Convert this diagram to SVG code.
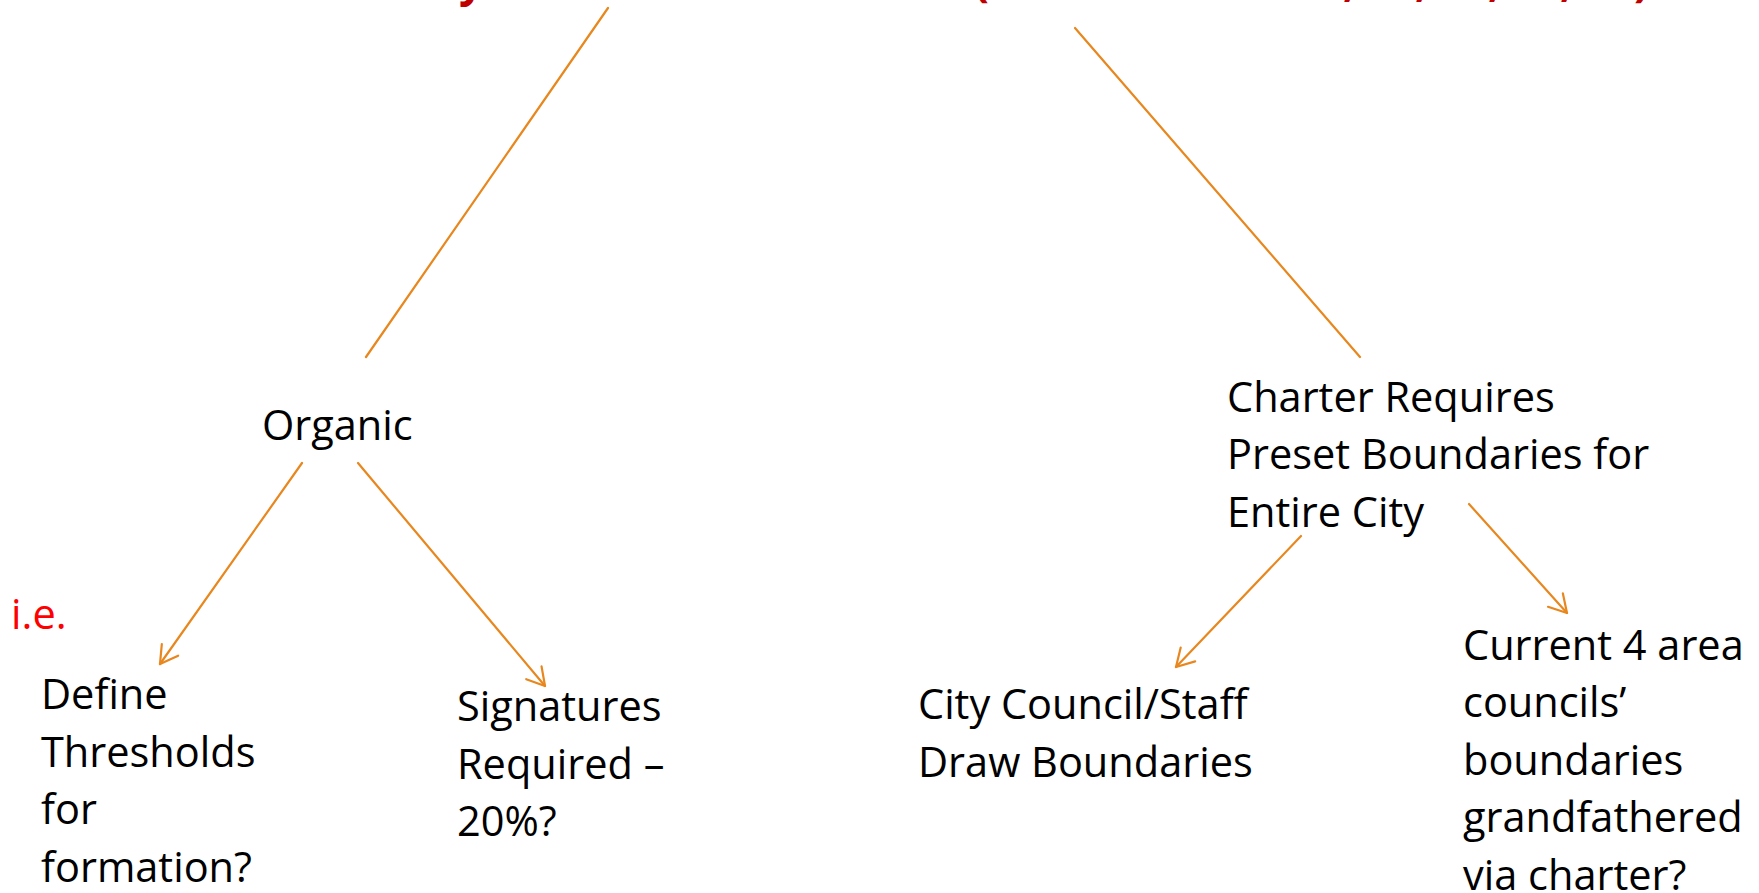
<svg xmlns="http://www.w3.org/2000/svg" width="1759" height="893" viewBox="0 0 1759 893">
  <style>
    .t { font-family: "Open Sans", "Liberation Sans", sans-serif; font-size: 41.5px; fill: #000000; }
    .red { fill: #FF0000; }
    .ttl { font-family: "Open Sans", "Liberation Sans", sans-serif; font-size: 44px; font-weight: bold; fill: #C00000; }
    .ln { stroke: #E8871E; stroke-width: 2.2; fill: none; stroke-linecap: round; }
  </style>
  <defs>
    <marker id="arr" viewBox="-20 -12 22 24" refX="0" refY="0" markerWidth="22" markerHeight="24" markerUnits="userSpaceOnUse" orient="auto">
      <path d="M-17.3,-10 L0,0 L-17.3,10" fill="none" stroke="#E8871E" stroke-width="2.2" stroke-linecap="round" stroke-linejoin="round"/>
    </marker>
  </defs>
  <rect width="1759" height="893" fill="#FFFFFF"/>

  <g id="title-fragment">
    <text class="ttl" x="459" y="-4">y</text>
    <text class="ttl" x="974" y="-4">(</text>
    <text class="ttl" x="1343" y="-4">,</text>
    <text class="ttl" x="1415" y="-4">,</text>
    <text class="ttl" x="1488" y="-4">,</text>
    <text class="ttl" x="1560" y="-4">,</text>
    <text class="ttl" x="1634" y="-4">)</text>
  </g>

  <g id="connectors">
    <line class="ln" x1="608" y1="8" x2="366" y2="357"/>
    <line class="ln" x1="1075" y1="28" x2="1360" y2="357"/>
    <line class="ln" x1="302" y1="463" x2="160" y2="664" marker-end="url(#arr)"/>
    <line class="ln" x1="358" y1="463" x2="545" y2="686" marker-end="url(#arr)"/>
    <line class="ln" x1="1301" y1="536" x2="1176" y2="667" marker-end="url(#arr)"/>
    <line class="ln" x1="1469" y1="504" x2="1567" y2="613" marker-end="url(#arr)"/>
  </g>

  <g id="node-organic">
    <text class="t" x="262" y="440">Organic</text>
  </g>
  <g id="node-charter">
    <text class="t" x="1227" y="411.5">Charter Requires</text>
    <text class="t" x="1227" y="469">Preset Boundaries for</text>
    <text class="t" x="1227" y="526.5">Entire City</text>
  </g>
  <g id="node-ie">
    <text class="t red" x="11" y="629">i.e.</text>
  </g>
  <g id="node-define">
    <text class="t" x="41" y="709">Define</text>
    <text class="t" x="41" y="766.5">Thresholds</text>
    <text class="t" x="41" y="824">for</text>
    <text class="t" x="41" y="881.5">formation?</text>
  </g>
  <g id="node-signatures">
    <text class="t" x="457" y="721">Signatures</text>
    <text class="t" x="457" y="778.5">Required –</text>
    <text class="t" x="457" y="836">20%?</text>
  </g>
  <g id="node-citycouncil">
    <text class="t" x="918" y="719">City Council/Staff</text>
    <text class="t" x="918" y="776.5">Draw Boundaries</text>
  </g>
  <g id="node-current">
    <text class="t" x="1463" y="659.5">Current 4 area</text>
    <text class="t" x="1463" y="717">councils’</text>
    <text class="t" x="1463" y="774.5">boundaries</text>
    <text class="t" x="1463" y="832">grandfathered</text>
    <text class="t" x="1463" y="889.5">via charter?</text>
  </g>
</svg>
